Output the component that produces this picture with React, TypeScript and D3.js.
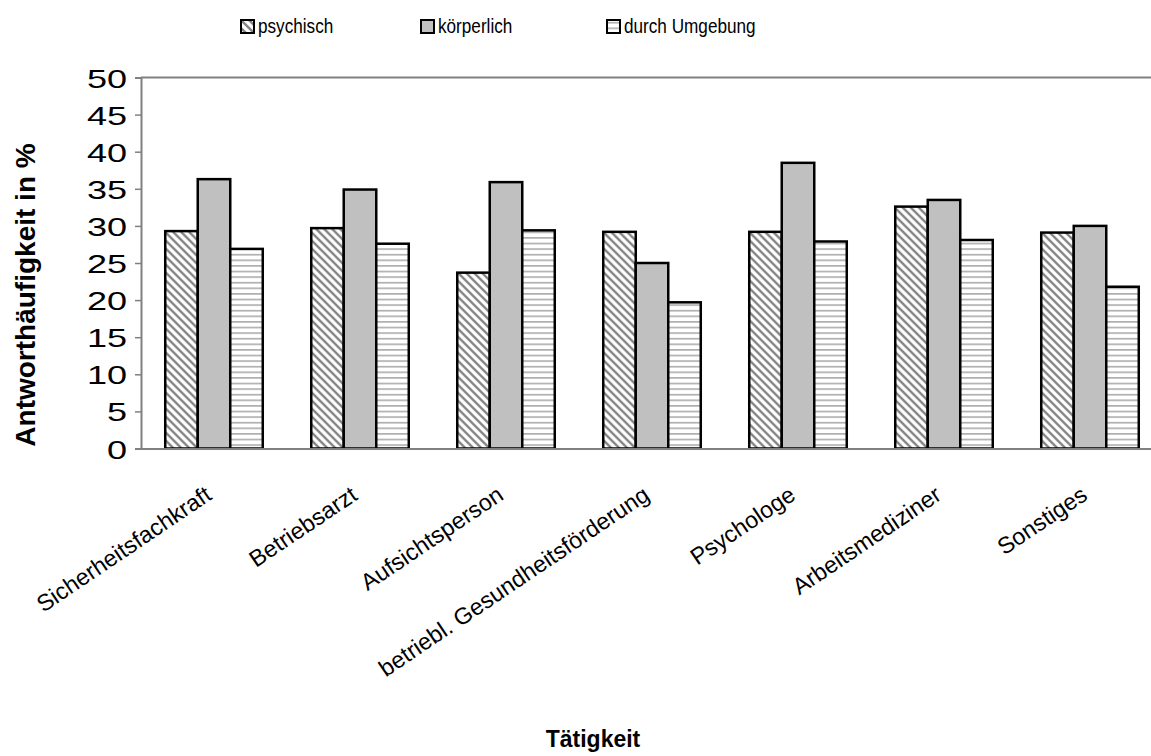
import React, { useEffect, useRef } from 'react';
import * as d3 from 'd3';

const categories = [
  'Sicherheitsfachkraft',
  'Betriebsarzt',
  'Aufsichtsperson',
  'betriebl. Gesundheitsförderung',
  'Psychologe',
  'Arbeitsmediziner',
  'Sonstiges',
];
const seriesNames = ['psychisch', 'körperlich', 'durch Umgebung'];
const psychisch = [29.3, 29.7, 23.7, 29.2, 29.2, 32.6, 29.1];
const koerperlich = [36.3, 34.9, 35.9, 25.0, 38.5, 33.5, 30.0];
const umgebung = [26.9, 27.6, 29.4, 19.7, 27.9, 28.1, 21.8];
const yTicks = [0, 5, 10, 15, 20, 25, 30, 35, 40, 45, 50];

const fills = ['url(#hatchDiag)', '#c0c0c0', 'url(#hatchHoriz)'];

const W = 1151;
const H = 756;
const font = 'Arial, "Liberation Sans", sans-serif';

export default function App() {
  const svgRef = useRef<SVGSVGElement>(null);

  useEffect(() => {
    if (!svgRef.current) return;
    const svg = d3.select(svgRef.current);
    svg.selectAll('*').remove();

    const left = 141;
    const top = 77.5;
    const bottom = 448.5;
    const step = 146;

    // patterns
    const defs = svg.append('defs');
    const diag = defs.append('pattern')
      .attr('id', 'hatchDiag')
      .attr('patternUnits', 'userSpaceOnUse')
      .attr('width', 8)
      .attr('height', 8);
    diag.append('rect').attr('width', 8).attr('height', 8).attr('fill', '#fff');
    diag.append('path')
      .attr('d', 'M0,0 L8,8 M-4,4 L4,12 M4,-4 L12,4')
      .attr('stroke', '#858585')
      .attr('stroke-width', 2.4);

    const horiz = defs.append('pattern')
      .attr('id', 'hatchHoriz')
      .attr('patternUnits', 'userSpaceOnUse')
      .attr('width', 6)
      .attr('height', 5.6);
    horiz.append('rect').attr('width', 6).attr('height', 5.6).attr('fill', '#fff');
    horiz.append('rect').attr('y', 2).attr('width', 6).attr('height', 1.4).attr('fill', '#a0a0a0');

    const x = d3.scaleBand<string>()
      .domain(categories)
      .range([left, left + step * categories.length])
      .paddingInner(0.332)
      .paddingOuter(0.166);

    const xInner = d3.scaleBand<string>()
      .domain(seriesNames)
      .range([0, x.bandwidth()]);

    const y = d3.scaleLinear().domain([0, 50]).range([bottom, top]);

    // frame
    svg.append('line')
      .attr('x1', left).attr('x2', W)
      .attr('y1', top).attr('y2', top)
      .attr('stroke', '#808080').attr('stroke-width', 2);

    // y axis
    const yAxis = svg.append('g')
      .attr('transform', `translate(${left},0)`)
      .call(d3.axisLeft(y).tickValues(yTicks).tickSize(6).tickPadding(8));
    yAxis.select('.domain').attr('stroke', '#808080').attr('stroke-width', 2);
    yAxis.selectAll('.tick line').attr('stroke', '#808080').attr('stroke-width', 1.5);
    yAxis.selectAll('.tick text')
      .attr('x', 0)
      .attr('dy', '0.36em')
      .attr('transform', 'translate(-14,0) scale(1.36,1)')
      .attr('font-family', font)
      .attr('font-size', 26.5)
      .attr('fill', '#000');

    const data = categories.map((c, i) => ({
      cat: c,
      vals: [psychisch[i], koerperlich[i], umgebung[i]],
    }));

    const groups = svg.append('g')
      .selectAll('g')
      .data(data)
      .join('g')
      .attr('transform', d => `translate(${x(d.cat)},0)`);

    groups.selectAll('rect')
      .data(d => d.vals.map((v, j) => ({ name: seriesNames[j], v, j })))
      .join('rect')
      .attr('x', d => xInner(d.name)!)
      .attr('y', d => y(d.v))
      .attr('width', xInner.bandwidth())
      .attr('height', d => bottom - y(d.v))
      .attr('fill', d => fills[d.j])
      .attr('stroke', '#000')
      .attr('stroke-width', 2.5);

    // bottom axis line
    svg.append('line')
      .attr('x1', left - 1).attr('x2', W)
      .attr('y1', bottom + 0.5).attr('y2', bottom + 0.5)
      .attr('stroke', '#808080').attr('stroke-width', 2);

    // x labels
    svg.append('g')
      .selectAll('text')
      .data(categories)
      .join('text')
      .attr('transform', d => `translate(${x(d)! + x.bandwidth() / 2 - 1},${bottom + 50}) rotate(-34)`)
      .attr('text-anchor', 'end')
      .attr('font-family', font)
      .attr('font-size', 23.3)
      .attr('fill', '#000')
      .text(d => d);

    // axis titles
    svg.append('text')
      .attr('transform', `translate(35,295) rotate(-90)`)
      .attr('text-anchor', 'middle')
      .attr('font-family', font)
      .attr('font-size', 28)
      .attr('font-weight', 'bold')
      .text('Antworthäufigkeit in %');

    svg.append('text')
      .attr('x', 593)
      .attr('y', 747)
      .attr('text-anchor', 'middle')
      .attr('font-family', font)
      .attr('font-size', 23)
      .attr('font-weight', 'bold')
      .text('Tätigkeit');

    // legend
    const legendX = [241, 421, 607];
    const legend = svg.append('g')
      .selectAll('g')
      .data(seriesNames)
      .join('g')
      .attr('transform', (d, i) => `translate(${legendX[i]},20)`);
    legend.append('rect')
      .attr('width', 13)
      .attr('height', 13)
      .attr('fill', (d, i) => fills[i])
      .attr('stroke', '#000')
      .attr('stroke-width', 2);
    legend.append('text')
      .attr('transform', 'translate(17,13) scale(0.88,1)')
      .attr('font-family', font)
      .attr('font-size', 19.5)
      .attr('fill', '#000')
      .text(d => d);
  }, []);

  return (
    <svg
      ref={svgRef}
      width={W}
      height={H}
      style={{ position: 'absolute', left: 0, top: 0, background: '#fff' }}
    />
  );
}
